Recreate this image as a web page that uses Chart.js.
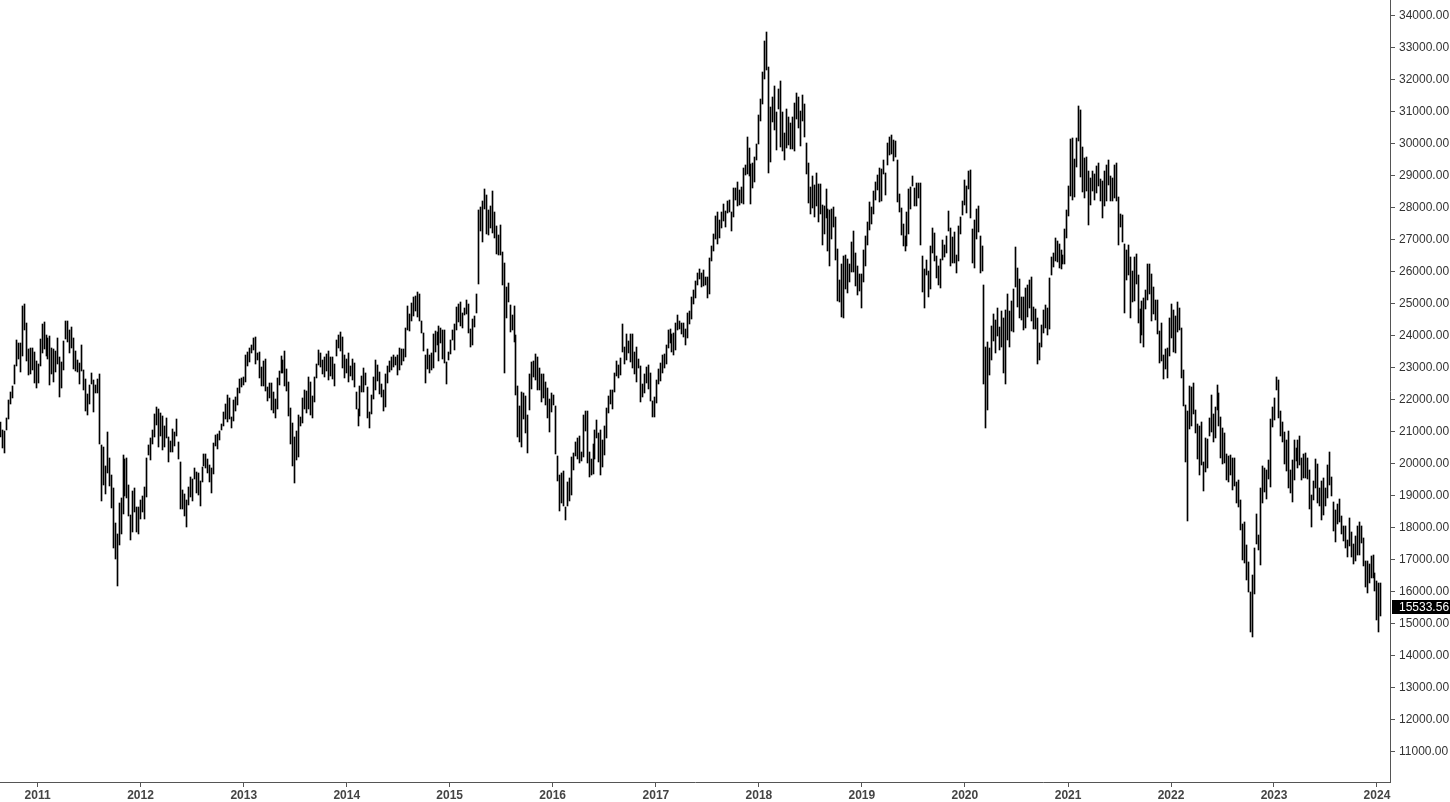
<!DOCTYPE html>
<html>
<head>
<meta charset="utf-8">
<script src="https://cdn.jsdelivr.net/npm/chart.js@4.4.1/dist/chart.umd.min.js"></script>
<style>
html,body{margin:0;padding:0;background:#fff;}
#wrap{width:1450px;height:802px;position:relative;}
</style>
</head>
<body>
<div id="wrap"><canvas id="c"></canvas></div>
<script>
// Weekly high/low values (index points), one entry per week, oldest first
const highs = [
21313,21063,21031,21438,22000,22250,22438,23094,23875,23781,
23781,24938,25000,24406,23594,23625,23625,23500,23219,23125,
23906,24375,24438,24031,23938,24000,23625,23594,23531,23938,
23344,23188,23844,24469,24469,24188,24281,23938,23531,23250,
23156,23719,22938,22656,22188,22469,22844,22625,22469,22656,
22813,20594,20531,19938,21000,20188,19656,19250,18156,17813,
18781,18938,20281,20156,20188,19344,18406,19156,19250,18656,
18656,18875,19000,19281,20188,20594,20813,21063,21563,21781,
21719,21594,21500,21188,21438,20844,20719,21094,21000,21406,
20688,20063,19188,19063,18875,19281,19594,19531,19875,19750,
19719,19469,19906,20313,20313,20156,19969,19875,20656,20906,
20938,21031,21250,21625,21875,22156,22063,21469,22000,22094,
22375,22656,
22688,22719,23406,23500,23625,23719,23938,23969,23469,23500,
23031,23219,23281,22406,22531,22531,22250,22031,22688,22906,
23375,23250,23531,22969,22563,21750,21281,20844,21031,21531,
21469,22063,22313,22281,22719,22563,22125,22719,23125,23563,
23469,23250,23344,23438,23531,23344,23344,23125,23875,24031,
24125,23969,23406,23281,23469,23063,23281,23156,22250,21719,
22438,22750,23000,22844,22406,21625,22156,22719,23250,23094,
22875,22500,22313,22813,23063,23219,23344,23406,23344,23406,
23625,23594,23594,24250,24938,24688,25031,25219,25250,25375,
25313,24469,24094,23406,23594,23406,23469,24063,24156,24125,
24313,24250,24188,24188,23188,23500,23875,24188,24375,24906,
25000,25063,24719,24875,25125,25000,24219,
24531,24625,25313,27938,28031,28219,28594,28406,27938,28063,
28531,27875,27438,27156,27469,26625,26281,25531,25656,24969,
24656,24938,24031,22438,21813,22250,22219,22125,21531,22813,
23188,23219,23438,23344,23000,22813,22813,22563,22375,22031,
22219,22156,21813,20250,19656,19719,19781,18656,19438,19563,
20219,20344,20688,20813,20875,20375,21531,21656,21656,20375,
20156,20625,21063,21375,20969,21063,20750,21188,21750,22125,
22313,22313,22844,23219,23094,23313,24375,23656,24063,23844,
24063,24063,23500,23656,23281,23063,22500,22813,23031,23094,
22844,21969,22094,22625,22969,23156,23406,23438,23719,24188,
24219,24063,24094,24406,24656,24469,24406,24406,24219,24719,
24781,25219,25438,25719,25969,26094,
25969,26063,25844,25844,26438,26813,27188,27750,27875,27625,
27875,28125,27906,28219,28250,27875,28625,28625,28813,28563,
28656,29250,29344,30219,29875,29375,29406,29594,30000,30906,
31406,32250,33219,33500,32406,31156,31469,31813,31000,31719,
31969,31000,30344,31094,30844,30656,30844,31281,31594,31469,
31031,31531,31250,30031,29406,28656,29000,28719,29094,28750,
28750,28094,28063,28594,27969,27938,27969,28031,27719,26719,
25750,26250,26500,26531,26406,26250,26938,27281,26594,26188,
25938,25938,26688,27125,27563,28188,28031,28531,28813,29031,
29250,29219,29500,29094,30031,30219,30281,30125,30094,29500,
28438,28000,27500,27125,27875,28594,28656,29000,28625,28781,
28781,28781,26500,26094,26375,26031,26813,
27375,27219,26500,26188,26406,27000,26844,27125,27906,27375,
27094,27250,26531,27438,27719,28219,28875,28688,29156,29188,
27344,27625,27969,28063,27125,26813,25594,23656,23813,23625,
24313,24688,24500,24875,24281,24781,24563,24813,25313,24781,
25094,25469,26781,26125,25781,25219,25219,25500,25594,25750,
25844,24906,24844,24563,23781,24344,24813,24969,24875,25813,
26469,26594,27063,26969,26875,26688,26531,27344,27938,28688,
30156,30188,29531,30188,31188,31063,29906,29563,29594,29156,
28938,29156,29063,29313,29406,28906,28844,29156,29344,29500,
29000,28938,29344,29406,28344,27813,27781,26875,26688,26844,
26469,26031,26469,26563,25906,24844,25094,25188,25438,26250,
26250,25938,25531,25125,25125,24156,
24406,23406,23594,23625,24563,25000,24813,24625,25063,24875,
24250,22938,21844,21656,22438,22406,22531,21688,21250,21188,
21313,20063,20813,20781,21438,22156,21563,21781,22469,22219,
21469,21125,20969,20313,20250,20281,20188,20188,19438,19500,
18875,18125,18188,17469,16938,16000,16531,17375,18438,17781,
19250,19938,19875,19813,20125,21406,21781,22063,22719,22625,
21656,21313,21000,20750,21031,19813,20125,20750,20500,20750,
20875,20188,20313,20344,20188,19813,19031,19469,20156,20000,
19250,19469,19563,19250,19969,20375,19594,18813,18563,18750,
18906,18375,18063,18063,17625,18313,17875,17500,17750,18063,
18188,18063,17688,16969,16969,16875,17125,17156,16594,16344,
16281,16281
];
const lows = [
20844,20500,20344,21063,21406,21875,22063,22500,23063,23281,
22875,23375,24188,23219,22781,22813,22938,22531,22375,22531,
23063,23469,23594,23375,23281,22469,22813,22563,22875,23125,
22094,22375,22938,23906,23813,23469,23625,22969,22906,22875,
22500,22906,22313,21656,21531,21875,22500,21625,22219,22219,
20625,18844,19344,19063,19719,19313,18625,17375,17031,16188,
17469,17813,18438,19000,18938,18375,17625,17875,18500,17875,
17813,18281,18500,18281,18969,20281,20125,20625,20844,21219,
20531,20875,20438,20531,20813,20063,20375,20375,20563,20875,
20156,18594,18594,18375,18031,18719,18969,18844,19531,19094,
19031,18688,19438,19938,19875,19719,19438,19094,19688,20563,
20469,20750,21063,21188,21406,21313,21406,21125,21344,21656,
21844,22219,
22406,22469,22563,23063,23188,23469,23563,23125,23250,22688,
22438,22438,22281,21969,22063,21688,21594,21438,21719,22469,
22844,22844,22438,22281,21500,20625,19938,19406,20125,20219,
21188,21281,21719,21594,21719,21531,21438,21938,22688,23094,
23031,22813,22719,22906,22625,22750,22656,22438,23375,23625,
23531,23000,22688,22844,22563,22750,22625,22406,21719,21188,
21500,22250,22250,22469,21438,21125,21563,22031,22313,22594,
22188,22094,21656,21781,22531,22875,22938,23031,23094,22781,
22938,23094,23219,23344,24188,24156,24469,24625,24781,24594,
24469,24094,23531,22531,22969,22844,22938,23000,23500,23719,
23219,23781,23281,23156,22500,23250,23438,23875,23563,24188,
24438,24313,24250,24656,24688,24094,23656,
23719,24281,24719,25625,27281,26938,27969,27188,27156,27375,
27219,27063,26563,26531,26531,25594,22844,24563,25063,24125,
24188,23813,22156,20844,20688,20531,21406,20969,20344,21688,
22344,22719,22625,22313,22313,21938,22063,21844,21438,21000,
21625,21844,20313,19469,18531,18781,18688,18250,18688,18844,
19031,19813,20250,20156,20031,20094,20219,21031,20031,19594,
19656,19688,20156,20813,20063,19656,19906,20281,20813,21594,
21875,21719,22250,22750,22688,22781,23500,23125,23250,23469,
23188,23000,22813,22563,23000,21938,22094,22219,22531,22344,
21969,21469,21469,21906,22500,22594,22844,23000,23125,23625,
23781,23500,23406,23563,24188,24219,24063,23969,23719,23938,
24375,24531,25000,25188,25594,25781,
25531,25563,25594,25188,25313,26344,26656,27031,26875,27063,
27375,27594,27406,27844,27875,27281,27719,28250,28063,28094,
28156,28125,29031,29063,29000,28125,28625,28813,29500,30000,
30719,31250,32031,32313,29094,29438,30688,30438,29813,31094,
29906,29781,29500,29875,29969,29844,29844,29781,30781,30500,
29938,30719,30219,29063,28156,27813,28000,27719,28063,27563,
27813,26844,27188,27688,26656,26188,27031,27406,26375,25094,
25063,24594,24563,25469,25344,25688,26000,26000,25563,25281,
25406,24875,25688,26188,26844,27313,27500,27813,28250,28563,
28188,28219,29063,28406,29344,29656,29688,29469,29594,28188,
27875,27156,26813,26656,26813,27188,27969,28688,28063,28063,
28313,26844,25375,24875,25906,25219,25469,
26594,26344,25813,25594,25500,26375,26469,26594,27281,26188,
26281,26281,25969,26344,27188,27781,28094,27844,28594,27688,
26281,26125,27031,27250,25969,26031,22500,21125,21688,22781,
23250,23844,23469,24000,23563,23656,22844,22500,23875,23656,
24156,24125,25531,24906,24563,24500,24188,24250,24594,24875,
24469,24219,24219,23125,23250,23656,24094,24250,24031,24219,
25906,26156,26344,26313,26125,26094,26250,26250,27063,27750,
28375,28250,28344,29281,30094,28969,28500,28313,28531,27469,
28094,28531,28250,28469,28688,28219,27688,28063,28219,28719,
28219,28219,28313,28219,26844,27406,26938,24719,25750,25906,
24563,25063,25094,25625,24406,23781,24031,23656,24844,25125,
25313,24469,24688,24500,24063,23156,
23219,22656,22969,22688,23375,23938,23500,23469,24125,24188,
22688,21813,20063,18219,21094,21188,21563,20969,20156,19656,
19969,19156,19750,19875,20875,21000,20688,20813,21688,21188,
20188,20000,20031,19500,19438,19656,19188,19313,18781,18656,
17938,17000,16906,16375,16000,14750,14594,15938,17500,17313,
16844,18781,19125,18906,19531,19281,21156,21375,22313,21438,
20875,20688,20000,19781,19250,19094,18813,19500,20094,19875,
19969,19500,19563,19563,19531,18594,18031,18875,19250,18781,
18688,18250,18406,18688,18938,19344,19000,17906,17563,18125,
18188,17813,17594,17375,17094,17438,17094,16875,16969,17156,
17156,17531,16813,16156,15969,16281,16438,16438,16031,15125,
14750,15250
];
const yearLabels = ['2011','2012','2013','2014','2015','2016','2017','2018','2019','2020','2021','2022','2023','2024'];
const priceTicks = [11000,12000,13000,14000,15000,16000,17000,18000,19000,20000,21000,22000,23000,24000,25000,26000,27000,28000,29000,30000,31000,32000,33000,34000];
const lastClose = 15533.56;
const firstWeek = Date.UTC(2010, 7, 23);
const weekMs = 7 * 24 * 3600 * 1000;

const yearIdx = yearLabels.map(y => (Date.UTC(+y, 0, 1) - firstWeek) / weekMs);
const barData = highs.map((h, i) => ({ x: i, y: [lows[i], h] }));

const crispBars = {
  id: 'crispBars',
  beforeDatasetsDraw(chart) {
    chart.getDatasetMeta(0).data.forEach(el => { el.x = Math.floor(el.x) + 0.5; });
  }
};
const priceTag = {
  id: 'priceTag',
  afterDraw(chart) {
    const ys = chart.scales.y;
    const ctx = chart.ctx;
    const y = Math.round(ys.getPixelForValue(lastClose));
    ctx.save();
    ctx.fillStyle = '#000';
    ctx.fillRect(ys.left + 2, y - 7, ys.right - ys.left - 2, 14);
    ctx.fillStyle = '#fff';
    ctx.font = '12px "Liberation Sans", Arial, sans-serif';
    ctx.textBaseline = 'middle';
    ctx.fillText(lastClose.toFixed(2), ys.left + 9, y + 0.5);
    ctx.restore();
  }
};

new Chart(document.getElementById('c'), {
  type: 'bar',
  data: {
    datasets: [{
      data: barData,
      backgroundColor: '#000',
      borderWidth: 0,
      barThickness: 1
    }]
  },
  plugins: [crispBars, priceTag],
  options: {
    responsive: true,
    maintainAspectRatio: false,
    animation: false,
    layout: { padding: 0 },
    plugins: { legend: { display: false }, tooltip: { enabled: false } },
    scales: {
      x: {
        type: 'linear',
        offset: false,
        min: -0.3,
        max: 703.6,
        grid: { offset: false, drawOnChartArea: false, drawTicks: true, tickLength: 5, color: '#555' },
        border: { display: true, color: '#555', width: 1 },
        afterBuildTicks: s => { s.ticks = yearIdx.map(v => ({ value: v })); },
        afterFit: s => { s.height = 20; s.paddingLeft = 0; s.paddingRight = 0; },
        ticks: {
          autoSkip: false, maxRotation: 0, padding: 1,
          color: '#444',
          font: { family: '"Liberation Sans", Arial, sans-serif', size: 12, weight: 'bold' },
          callback: (v, i) => yearLabels[i]
        }
      },
      y: {
        position: 'right',
        min: 10062,
        max: 34500,
        grid: { drawOnChartArea: false, drawTicks: true, tickLength: 5, color: '#555' },
        border: { display: true, color: '#555', width: 1 },
        afterBuildTicks: s => { s.ticks = priceTicks.map(v => ({ value: v })); },
        afterFit: s => { s.width = 60; s.paddingTop = 0; s.paddingBottom = 0; },
        ticks: {
          padding: 4,
          color: '#333',
          font: { family: '"Liberation Sans", Arial, sans-serif', size: 12 },
          callback: v => Number(v).toFixed(2)
        }
      }
    }
  }
});
</script>
</body>
</html>
